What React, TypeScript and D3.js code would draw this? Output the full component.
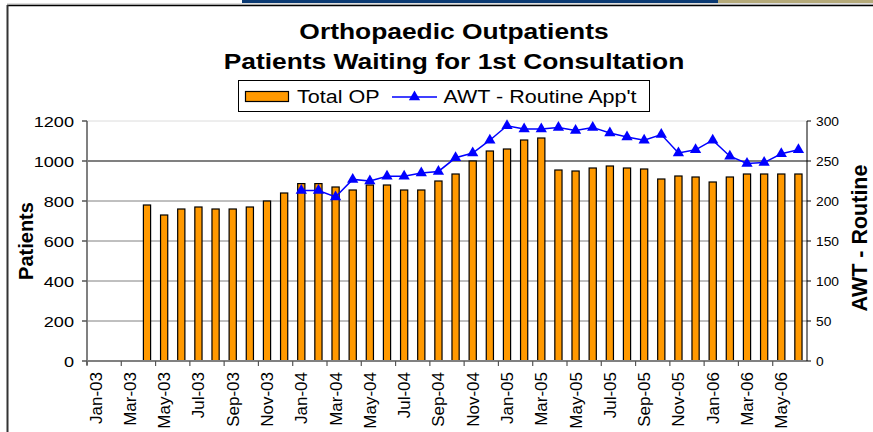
import React, { useRef, useEffect } from 'react';
import * as d3 from 'd3';

// month categories, Jan-03 .. Jun-06
const months: string[] = [
    'Jan-03', 'Feb-03', 'Mar-03', 'Apr-03', 'May-03', 'Jun-03', 'Jul-03', 'Aug-03', 'Sep-03', 'Oct-03', 'Nov-03', 'Dec-03',
    'Jan-04', 'Feb-04', 'Mar-04', 'Apr-04', 'May-04', 'Jun-04', 'Jul-04', 'Aug-04', 'Sep-04', 'Oct-04', 'Nov-04', 'Dec-04',
    'Jan-05', 'Feb-05', 'Mar-05', 'Apr-05', 'May-05', 'Jun-05', 'Jul-05', 'Aug-05', 'Sep-05', 'Oct-05', 'Nov-05', 'Dec-05',
    'Jan-06', 'Feb-06', 'Mar-06', 'Apr-06', 'May-06', 'Jun-06',
];

// Total OP (patients waiting), no data before Apr-03
const totalOP: (number | null)[] = [
    null, null, null, 780, 730, 760, 770, 760, 760, 770, 800, 840,
    887, 887, 870, 855, 880, 880, 855, 855, 900, 935, 1000, 1050,
    1060, 1105, 1115, 955, 950, 965, 975, 965, 960, 910, 925, 920,
    895, 920, 935, 935, 935, 935,
];

// AWT - Routine App't, starts Jan-04
const awtRoutine: (number | null)[] = [
    null, null, null, null, null, null, null, null, null, null, null, null,
    213, 213, 205, 227, 225, 231, 231, 235, 237, 254, 260, 276,
    294, 290, 290, 292, 288, 292, 285, 280, 276, 283, 260, 264,
    276, 256, 247, 248, 259, 264,
];

const leftTicks = [0, 200, 400, 600, 800, 1000, 1200];
const rightTicks = [0, 50, 100, 150, 200, 250, 300];

const titleLines = ['Orthopaedic Outpatients', 'Patients Waiting for 1st Consultation'];

const FONT = 'Arial, "Liberation Sans", sans-serif';
const SX = 1.25; // the original picture is stretched sideways

const App: React.FC = () => {
    const svgRef = useRef<SVGSVGElement>(null);

    useEffect(() => {
        const svg = d3.select(svgRef.current);
        svg.selectAll('*').remove();

        const plot = { left: 87, right: 807, top: 121, bottom: 361 };

        const x = d3.scaleBand<string>()
            .domain(months)
            .range([plot.left, plot.right]);

        const yLeft = d3.scaleLinear().domain([0, 1200]).range([plot.bottom, plot.top]);
        const yRight = d3.scaleLinear().domain([0, 300]).range([plot.bottom, plot.top]);

        // stretched horizontal text
        const label = (g: any, tx: number, ty: number, text: string, size: number, anchor: string, bold = false, sx = SX) =>
            g.append('text')
                .attr('transform', `translate(${tx},${ty}) scale(${sx},1)`)
                .attr('text-anchor', anchor)
                .attr('font-family', FONT)
                .attr('font-size', size)
                .attr('font-weight', bold ? 'bold' : 'normal')
                .attr('fill', '#000')
                .text(text);

        // frame bits from the slide
        svg.append('rect').attr('x', 242).attr('y', 0).attr('width', 476).attr('height', 3).attr('fill', '#0b3a73');
        svg.append('rect').attr('x', 718).attr('y', 0).attr('width', 155).attr('height', 3).attr('fill', '#b5aa7a');
        svg.append('line').attr('x1', 7).attr('x2', 873).attr('y1', 4).attr('y2', 4).attr('stroke', '#bbb');
        svg.append('line').attr('x1', 7).attr('x2', 873).attr('y1', 5.5).attr('y2', 5.5).attr('stroke', '#000').attr('stroke-width', 1.5);
        svg.append('line').attr('x1', 7.5).attr('x2', 7.5).attr('y1', 5).attr('y2', 432).attr('stroke', '#333').attr('stroke-width', 2);

        // title
        label(svg, 454, 39, titleLines[0], 22, 'middle', true, 1.2);
        label(svg, 454, 69, titleLines[1], 22, 'middle', true, 1.2);

        // gridlines
        leftTicks.filter(t => t > 0).forEach(t => {
            svg.append('line')
                .attr('x1', plot.left).attr('x2', plot.right)
                .attr('y1', yLeft(t)).attr('y2', yLeft(t))
                .attr('stroke', t === 1200 ? '#dcdcdc' : '#808080')
                .attr('stroke-width', t === 1000 ? 2 : 1);
        });

        // bars
        const barW = x.bandwidth() * 0.42;
        months.forEach((m, i) => {
            const v = totalOP[i];
            if (v == null) return;
            svg.append('rect')
                .attr('x', (x(m) as number) + (x.bandwidth() - barW) / 2)
                .attr('y', yLeft(v))
                .attr('width', barW)
                .attr('height', yLeft(0) - yLeft(v))
                .attr('fill', '#ff9900')
                .attr('stroke', '#000')
                .attr('stroke-width', 1.2);
        });

        // left axis
        svg.append('line')
            .attr('x1', plot.left).attr('x2', plot.left)
            .attr('y1', plot.top).attr('y2', plot.bottom + 4)
            .attr('stroke', '#808080').attr('stroke-width', 2);
        leftTicks.forEach(t => {
            svg.append('line')
                .attr('x1', plot.left - 5).attr('x2', plot.left)
                .attr('y1', yLeft(t)).attr('y2', yLeft(t))
                .attr('stroke', '#555').attr('stroke-width', 1.5);
            label(svg, 74, yLeft(t) + 5.5, String(t), 14.5, 'end');
        });

        // bottom axis
        svg.append('line')
            .attr('x1', plot.left).attr('x2', plot.right)
            .attr('y1', plot.bottom).attr('y2', plot.bottom)
            .attr('stroke', '#808080').attr('stroke-width', 2);
        months.forEach((m, i) => {
            if (i % 2 !== 0) return;
            const bx = x(m) as number;
            svg.append('line')
                .attr('x1', bx).attr('x2', bx)
                .attr('y1', plot.bottom).attr('y2', plot.bottom + 5)
                .attr('stroke', '#555').attr('stroke-width', 1.2);
            const cx = bx + x.bandwidth() / 2 + 6;
            svg.append('text')
                .attr('transform', `translate(${cx},${plot.bottom + 11}) rotate(-90)`)
                .attr('text-anchor', 'end')
                .attr('font-family', FONT)
                .attr('font-size', 17)
                .text(m);
        });

        // right axis
        svg.append('line')
            .attr('x1', plot.right).attr('x2', plot.right)
            .attr('y1', plot.top).attr('y2', plot.bottom)
            .attr('stroke', '#000').attr('stroke-width', 1);
        rightTicks.forEach(t => {
            svg.append('line')
                .attr('x1', plot.right).attr('x2', plot.right + 4)
                .attr('y1', yRight(t)).attr('y2', yRight(t))
                .attr('stroke', '#000');
            label(svg, 816, yRight(t) + 4.5, String(t), 12, 'start', false, 1.15);
        });

        // AWT line
        const pts = months
            .map((m, i) => ({ m, v: awtRoutine[i] }))
            .filter(d => d.v != null) as { m: string; v: number }[];
        const cx = (m: string) => (x(m) as number) + x.bandwidth() / 2;
        const line = d3.line<{ m: string; v: number }>()
            .x(d => cx(d.m))
            .y(d => yRight(d.v));
        svg.append('path')
            .datum(pts)
            .attr('fill', 'none')
            .attr('stroke', '#0000ff')
            .attr('stroke-width', 1.5)
            .attr('d', line);
        const tri = d3.symbol(d3.symbolTriangle, 55);
        pts.forEach(d => {
            svg.append('path')
                .attr('transform', `translate(${cx(d.m)},${yRight(d.v)})`)
                .attr('d', tri())
                .attr('fill', '#0000ff');
        });

        // axis titles
        svg.append('text')
            .attr('transform', `translate(33,241) rotate(-90)`)
            .attr('text-anchor', 'middle')
            .attr('font-family', FONT)
            .attr('font-size', 20)
            .attr('font-weight', 'bold')
            .text('Patients');
        svg.append('text')
            .attr('transform', `translate(867,238) rotate(-90)`)
            .attr('text-anchor', 'middle')
            .attr('font-family', FONT)
            .attr('font-size', 21.5)
            .attr('font-weight', 'bold')
            .text('AWT - Routine');

        // legend
        const lg = svg.append('g');
        lg.append('rect').attr('x', 238.5).attr('y', 80.5).attr('width', 411).attr('height', 31)
            .attr('fill', '#fff').attr('stroke', '#000').attr('stroke-width', 1);
        lg.append('rect').attr('x', 245.5).attr('y', 91.5).attr('width', 43).attr('height', 10)
            .attr('fill', '#ff9900').attr('stroke', '#000').attr('stroke-width', 1.2);
        label(lg, 297, 102.5, 'Total OP', 17.5, 'start', false, 1.23);
        lg.append('line').attr('x1', 392).attr('x2', 437).attr('y1', 97).attr('y2', 97)
            .attr('stroke', '#0000ff').attr('stroke-width', 1.5);
        lg.append('path').attr('transform', 'translate(414.5,97)').attr('d', tri()).attr('fill', '#0000ff');
        label(lg, 443.5, 102.5, "AWT - Routine App't", 17.5, 'start', false, 1.23);
    }, []);

    return (
        <svg
            ref={svgRef}
            width={873}
            height={432}
            style={{ position: 'absolute', left: 0, top: 0, background: '#fff' }}
        />
    );
};

export default App;
